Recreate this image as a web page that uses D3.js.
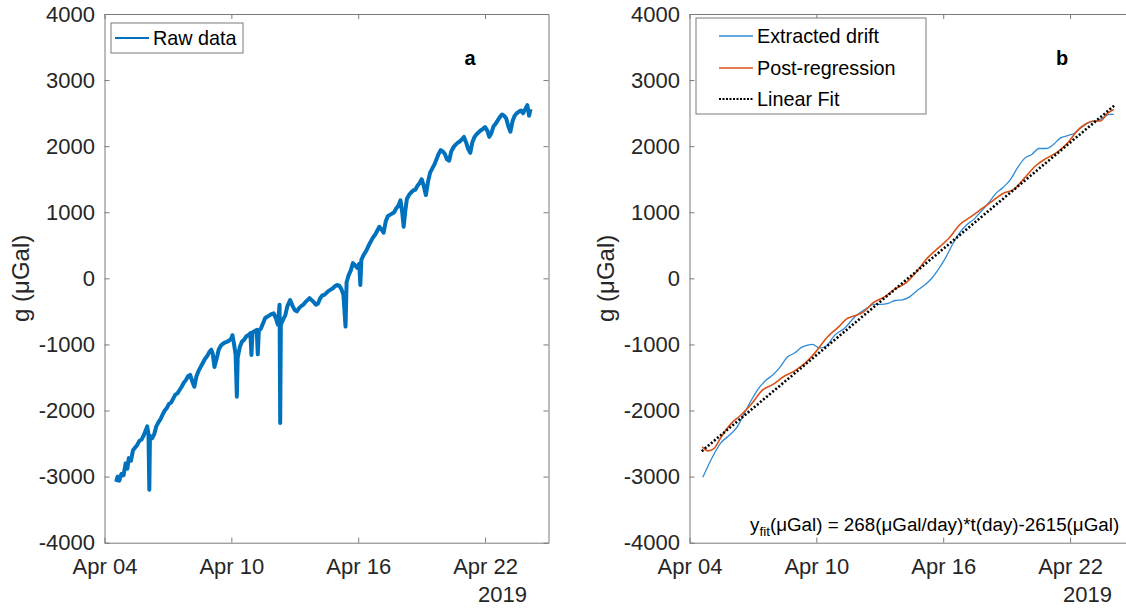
<!DOCTYPE html>
<html><head><meta charset="utf-8">
<script src="https://cdn.jsdelivr.net/npm/d3@7"></script>
<style>
html,body{margin:0;padding:0;background:#fff;}
svg{display:block;font-family:"Liberation Sans",Arial,Helvetica,sans-serif;}
</style></head>
<body>
<svg id="chart" width="1126" height="609"></svg>
<script>
// ---------- DATA ----------
const startDate = "2019-04-04";
const xTickDates = ["2019-04-04","2019-04-10","2019-04-16","2019-04-22"];
const yTicks = [-4000,-3000,-2000,-1000,0,1000,2000,3000,4000];
const yearLabel = "2019";

// Panel a: raw data [day offset from Apr 04, g in µGal]
const rawDay = [0.55,0.62,0.7,0.8,0.9,1.0,1.08,1.15,1.25,1.35,1.45,1.55,1.65,1.75,1.85,1.95,2.02,2.08,2.12,2.15,2.25,2.35,2.45,2.55,2.65,2.75,2.85,2.95,3.05,3.15,3.25,3.35,3.45,3.55,3.65,3.75,3.85,3.95,4.05,4.15,4.25,4.35,4.45,4.55,4.65,4.75,4.85,4.95,5.05,5.12,5.2,5.3,5.4,5.5,5.6,5.7,5.8,5.9,6.0,6.05,6.12,6.2,6.26,6.3,6.4,6.5,6.6,6.7,6.8,6.9,6.95,7.0,7.1,7.2,7.25,7.3,7.4,7.5,7.6,7.7,7.8,7.9,8.0,8.1,8.2,8.28,8.31,8.34,8.45,8.55,8.65,8.78,8.9,9.0,9.1,9.2,9.3,9.4,9.5,9.6,9.7,9.8,9.9,10.0,10.1,10.2,10.3,10.4,10.5,10.6,10.7,10.8,10.9,11.0,11.1,11.2,11.3,11.4,11.45,11.55,11.65,11.75,11.85,11.95,12.05,12.1,12.15,12.25,12.4,12.5,12.6,12.7,12.8,12.9,13.0,13.1,13.2,13.3,13.4,13.5,13.6,13.7,13.8,13.9,14.0,14.08,14.15,14.22,14.3,14.4,14.5,14.6,14.7,14.8,14.9,15.0,15.1,15.2,15.3,15.4,15.5,15.6,15.7,15.8,15.9,16.0,16.1,16.2,16.3,16.4,16.5,16.6,16.7,16.8,16.9,17.0,17.1,17.2,17.3,17.4,17.5,17.6,17.7,17.8,17.9,18.0,18.1,18.2,18.3,18.4,18.5,18.6,18.7,18.8,18.9,19.0,19.1,19.2,19.3,19.4,19.5,19.6,19.7,19.8,19.9,20.0,20.08,20.15];
const rawVal = [-3080,-3000,-3060,-2960,-2980,-2800,-2880,-2720,-2760,-2600,-2560,-2520,-2460,-2440,-2380,-2300,-2240,-2360,-3200,-2380,-2420,-2360,-2240,-2180,-2130,-2060,-2000,-1960,-1900,-1880,-1820,-1760,-1740,-1690,-1640,-1580,-1540,-1480,-1460,-1560,-1640,-1480,-1400,-1340,-1280,-1220,-1180,-1120,-1080,-1140,-1340,-1220,-1080,-1020,-990,-970,-960,-940,-910,-860,-980,-1150,-1790,-1200,-1040,-960,-930,-880,-860,-830,-1160,-820,-800,-780,-1150,-790,-760,-680,-600,-580,-560,-540,-530,-600,-700,-400,-2190,-700,-620,-560,-420,-330,-420,-480,-500,-450,-420,-400,-360,-330,-300,-330,-360,-400,-380,-300,-260,-250,-220,-190,-170,-150,-120,-100,-110,-160,-250,-730,-60,50,120,230,200,160,220,-100,280,350,430,500,560,620,660,720,780,740,690,860,940,960,980,1000,1060,1100,1180,1000,780,1000,1200,1260,1300,1330,1340,1400,1440,1500,1400,1260,1460,1600,1660,1720,1800,1880,1940,1920,1880,1800,1780,1920,1980,2020,2050,2070,2100,2140,2060,1960,1900,2060,2140,2180,2210,2240,2260,2290,2240,2140,2200,2300,2340,2390,2440,2480,2460,2420,2300,2220,2380,2460,2500,2520,2540,2500,2560,2620,2460,2560];

// Panel b: extracted drift
const driftDay = [0.63,1.05,1.48,1.9,2.24,2.58,2.93,3.27,3.6,3.95,4.29,4.63,4.97,5.3,5.65,5.82,6.16,6.5,6.84,7.35,7.86,8.37,8.71,9.05,9.39,9.73,10.07,10.41,10.75,11.09,11.43,11.77,12.11,12.45,12.79,13.13,13.47,13.81,14.15,14.49,14.83,15.17,15.51,15.85,16.19,16.53,16.87,17.21,17.55,17.89,18.23,18.57,18.91,19.25,19.59,19.85,20.07];
const driftVal = [-3010,-2725,-2490,-2370,-2255,-2050,-1840,-1665,-1545,-1460,-1340,-1190,-1130,-1045,-1005,-1000,-1055,-1015,-870,-750,-570,-455,-395,-395,-380,-335,-325,-280,-190,-110,-10,135,310,520,695,815,900,1020,1140,1285,1375,1490,1670,1815,1875,1965,1965,2025,2125,2160,2200,2290,2360,2380,2435,2480,2480];

// Panel b: post-regression
const postDay = [0.6,0.88,1.14,1.56,1.98,2.41,2.93,3.44,3.95,4.46,4.97,5.48,5.99,6.5,7.0,7.5,7.77,8.2,8.71,9.22,9.73,10.24,10.75,11.26,11.77,12.28,12.79,13.3,13.81,14.32,14.83,15.34,15.85,16.36,16.87,17.38,17.89,18.4,18.74,19.08,19.42,19.76,20.07];
const postVal = [-2550,-2610,-2580,-2370,-2195,-2075,-1900,-1695,-1605,-1485,-1400,-1280,-1105,-895,-750,-600,-570,-515,-365,-280,-160,-70,105,310,460,610,815,930,1050,1170,1285,1345,1520,1700,1815,1905,2050,2255,2335,2380,2380,2495,2555];

// Panel b: linear fit  y = slope * t + intercept, t in days from fit start
const fitSlope = 268;
const fitIntercept = -2615;
const fitStartDay = 0.58;
const fitT = [0, 19.5];

const legendA = ["Raw data"];
const legendB = ["Extracted drift","Post-regression","Linear Fit"];
const panelLetters = ["a","b"];
const yLabel = "g (\u03BCGal)";

// ---------- DRAW ----------
const svg = d3.select("#chart");
const parse = d3.timeParse("%Y-%m-%d");
const t0 = parse(startDate);
const toDate = d => new Date(t0.getTime() + d * 864e5);
const W = 444, TOP = 14, BOT = 542.7;
const lefts = [104.5, 689.5];
const axisCol = "#7a7a7a", textCol = "#262626";
const tickFont = "22px", legFont = "19.8px";

const y = d3.scaleLinear().domain([-4000, 4000]).range([BOT, TOP]);

function makePanel(i) {
  const L = lefts[i];
  const x = d3.scaleTime().domain([t0, toDate(21)]).range([L, L + W]);
  const g = svg.append("g");
  const tickDates = xTickDates.map(parse);

  const ax = [
    g.append("g").attr("transform", `translate(0,${BOT})`)
      .call(d3.axisBottom(x).tickValues(tickDates).tickFormat(d3.timeFormat("%b %d")).tickSizeInner(-5).tickSizeOuter(0).tickPadding(15.5)),
    g.append("g").attr("transform", `translate(0,${TOP})`)
      .call(d3.axisTop(x).tickValues(tickDates).tickFormat("").tickSizeInner(-5).tickSizeOuter(0)),
    g.append("g").attr("transform", `translate(${L},0)`)
      .call(d3.axisLeft(y).tickValues(yTicks).tickFormat(d => String(d)).tickSizeInner(-5).tickSizeOuter(0).tickPadding(9.5)),
    g.append("g").attr("transform", `translate(${L + W},0)`)
      .call(d3.axisRight(y).tickValues(yTicks).tickFormat("").tickSizeInner(-5).tickSizeOuter(0))
  ];
  ax.forEach(a => {
    a.selectAll("path.domain").attr("stroke", axisCol).attr("stroke-width", 1);
    a.selectAll(".tick line").attr("stroke", axisCol);
    a.selectAll(".tick text").attr("fill", textCol).style("font-size", tickFont)
      .style("font-family", '"Liberation Sans",Arial,sans-serif');
  });

  g.append("text").attr("x", L + 422.5).attr("y", 602).attr("text-anchor", "end")
    .attr("fill", textCol).style("font-size", tickFont).text(yearLabel);

  g.append("text").attr("transform", `translate(${L - 76},${(TOP + BOT) / 2}) rotate(-90)`)
    .attr("text-anchor", "middle").attr("fill", textCol).style("font-size", "24px").text(yLabel);

  g.append("text").attr("x", i === 0 ? 470 : 1062).attr("y", 65).attr("text-anchor", "middle")
    .attr("fill", "#000").style("font-size", "20px").style("font-weight", "bold").text(panelLetters[i]);
  return x;
}

// Panel a
const xa = makePanel(0);
const rawData = rawDay.map((d, k) => [toDate(d), rawVal[k]]);
const line = (x) => d3.line().x(d => x(d[0])).y(d => y(d[1]));
svg.append("path").datum(rawData).attr("d", line(xa))
  .attr("fill", "none").attr("stroke", "#0072BD").attr("stroke-width", 4).attr("stroke-linejoin", "round");

// legend a
const lgA = svg.append("g");
lgA.append("rect").attr("x", 111).attr("y", 23).attr("width", 132).attr("height", 30)
  .attr("fill", "#fff").attr("stroke", axisCol).attr("stroke-width", 1);
lgA.append("line").attr("x1", 115).attr("x2", 149).attr("y1", 38).attr("y2", 38)
  .attr("stroke", "#0072BD").attr("stroke-width", 2);
lgA.append("text").attr("x", 153).attr("y", 38).attr("dy", "0.35em").attr("fill", "#000")
  .style("font-size", legFont).text(legendA[0]);

// Panel b
const xb = makePanel(1);
svg.append("clipPath").attr("id", "clipb").append("rect")
  .attr("x", lefts[1]).attr("y", TOP).attr("width", W).attr("height", BOT - TOP);
const gb = svg.append("g").attr("clip-path", "url(#clipb)");
gb.append("path").datum(driftDay.map((d, k) => [toDate(d), driftVal[k]])).attr("d", line(xb).curve(d3.curveMonotoneX))
  .attr("fill", "none").attr("stroke", "#2E8BD6").attr("stroke-width", 1.3);
gb.append("path").datum(postDay.map((d, k) => [toDate(d), postVal[k]])).attr("d", line(xb).curve(d3.curveMonotoneX))
  .attr("fill", "none").attr("stroke", "#D95319").attr("stroke-width", 1.6);
gb.append("path").datum(fitT.map(t => [toDate(fitStartDay + t), fitSlope * t + fitIntercept])).attr("d", line(xb))
  .attr("fill", "none").attr("stroke", "#000").attr("stroke-width", 2.6).attr("stroke-dasharray", "2,2");

// legend b
const lgB = svg.append("g");
lgB.append("rect").attr("x", 696).attr("y", 18).attr("width", 230).attr("height", 96)
  .attr("fill", "#fff").attr("stroke", axisCol).attr("stroke-width", 1);
const lgStyles = [
  {c: "#2E8BD6", w: 1.3, d: null},
  {c: "#D95319", w: 1.6, d: null},
  {c: "#000", w: 2, d: "2,1.5"}
];
[36, 68, 99].forEach((yy, k) => {
  const s = lgStyles[k];
  const l = lgB.append("line").attr("x1", 719).attr("x2", 753).attr("y1", yy).attr("y2", yy)
    .attr("stroke", s.c).attr("stroke-width", s.w);
  if (s.d) l.attr("stroke-dasharray", s.d);
  lgB.append("text").attr("x", 757).attr("y", yy).attr("dy", "0.35em").attr("fill", "#000")
    .style("font-size", legFont).text(legendB[k]);
});

// formula
const ft = svg.append("text").attr("x", 750).attr("y", 530.5).attr("fill", "#000").style("font-size", "18.8px");
ft.append("tspan").text("y");
ft.append("tspan").attr("dy", 5).style("font-size", "13.5px").text("fit");
ft.append("tspan").attr("dy", -5).text(`(\u03BCGal) = ${fitSlope}(\u03BCGal/day)*t(day)${fitIntercept}(\u03BCGal)`);
</script>
</body></html>
